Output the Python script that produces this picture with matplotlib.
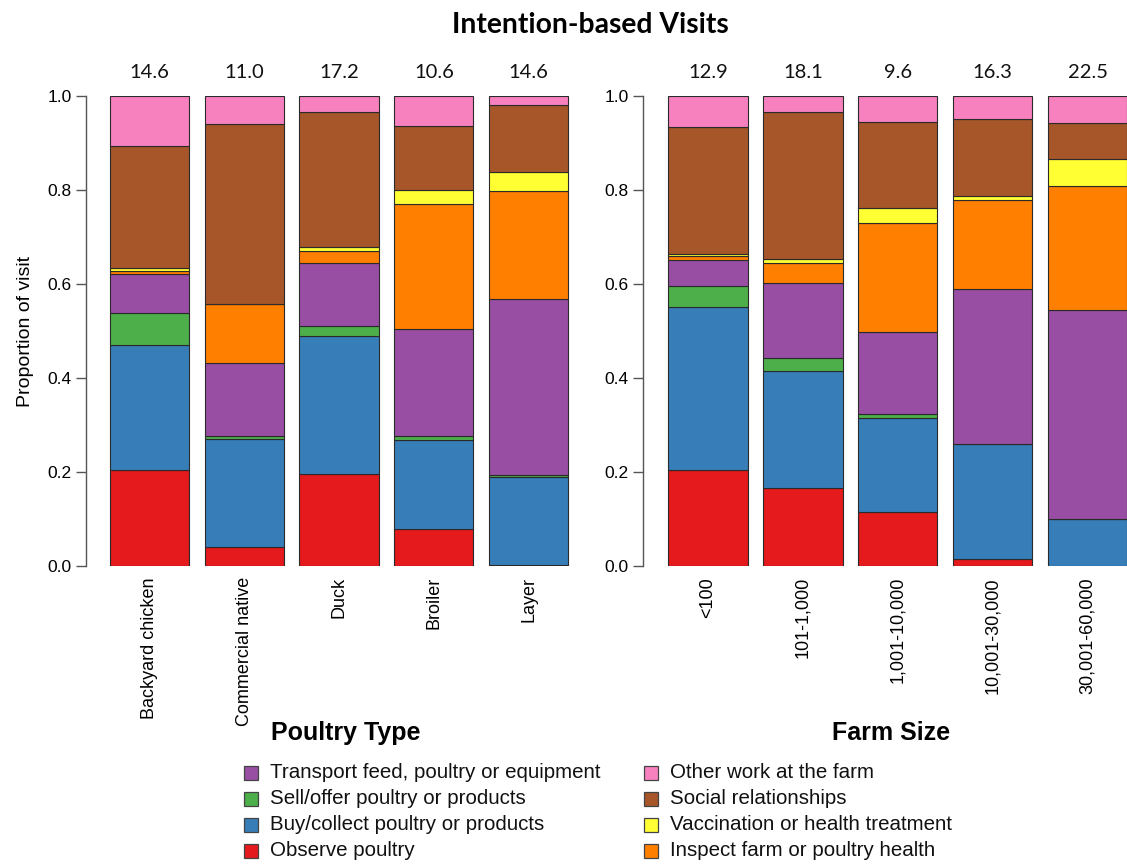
import matplotlib
matplotlib.use("Agg")
import matplotlib.pyplot as plt
from matplotlib.patches import Rectangle

# Visit purposes, stacked from the bottom of each bar upwards
purposes = [
    "Observe poultry",
    "Buy/collect poultry or products",
    "Sell/offer poultry or products",
    "Transport feed, poultry or equipment",
    "Inspect farm or poultry health",
    "Vaccination or health treatment",
    "Social relationships",
    "Other work at the farm",
]
colors = ["#E41A1C", "#377EB8", "#4DAF4A", "#984EA3",
          "#FF7F00", "#FFFF33", "#A65628", "#F781BF"]

# Poultry type panel
poultry_types = ["Backyard chicken", "Commercial native", "Duck", "Broiler", "Layer"]
poultry_totals = ["14.6", "11.0", "17.2", "10.6", "14.6"]
poultry_observe   = [0.204, 0.040, 0.196, 0.078, 0.003]
poultry_buy       = [0.267, 0.230, 0.294, 0.190, 0.187]
poultry_sell      = [0.068, 0.007, 0.020, 0.008, 0.003]
poultry_transport = [0.082, 0.154, 0.135, 0.229, 0.375]
poultry_inspect   = [0.007, 0.127, 0.026, 0.265, 0.229]
poultry_vaccine   = [0.006, 0.000, 0.008, 0.030, 0.041]
poultry_social    = [0.260, 0.383, 0.286, 0.136, 0.142]
poultry_other     = [0.106, 0.059, 0.035, 0.064, 0.020]

# Farm size panel
farm_sizes = ["<100", "101-1,000", "1,001-10,000", "10,001-30,000", "30,001-60,000"]
farm_totals = ["12.9", "18.1", "9.6", "16.3", "22.5"]
farm_observe   = [0.205, 0.167, 0.115, 0.014, 0.000]
farm_buy       = [0.347, 0.248, 0.200, 0.245, 0.099]
farm_sell      = [0.044, 0.027, 0.009, 0.000, 0.000]
farm_transport = [0.055, 0.161, 0.173, 0.330, 0.445]
farm_inspect   = [0.009, 0.042, 0.233, 0.189, 0.265]
farm_vaccine   = [0.004, 0.008, 0.031, 0.009, 0.057]
farm_social    = [0.270, 0.313, 0.184, 0.165, 0.077]
farm_other     = [0.066, 0.034, 0.055, 0.048, 0.057]

poultry_series = [poultry_observe, poultry_buy, poultry_sell, poultry_transport,
                  poultry_inspect, poultry_vaccine, poultry_social, poultry_other]
farm_series = [farm_observe, farm_buy, farm_sell, farm_transport,
               farm_inspect, farm_vaccine, farm_social, farm_other]

W, H = 1127, 864
fig = plt.figure(figsize=(W / 100, H / 100), dpi=100)

ARIAL = "Liberation Sans"
HUMANIST = "Lato"

y0_px, y1_px = 566.0, 96.0   # pixel rows of 0.0 and 1.0


def make_axes(spine_px, first_center_px, unit_px, x_hi=4.6):
    x_lo = -(first_center_px - spine_px) / unit_px
    width_px = (x_hi - x_lo) * unit_px
    ax = fig.add_axes([spine_px / W, (H - y0_px) / H,
                       width_px / W, (y0_px - y1_px) / H])
    ax.set_xlim(x_lo, x_hi)
    ax.set_ylim(0, 1)
    return ax


def draw_panel(ax, cats, series, totals):
    x = list(range(len(cats)))
    bottom = [0.0] * len(cats)
    for vals, col in zip(series, colors):
        ax.bar(x, vals, bottom=bottom, width=0.835, color=col,
               edgecolor="#2a2a2a", linewidth=0.8, zorder=2)
        bottom = [b + v for b, v in zip(bottom, vals)]
    for xi, t in zip(x, totals):
        ax.text(xi, 1.049, t, ha="center", va="center",
                fontsize=14.5, family=HUMANIST, color="#111111")
    for s in ["top", "right", "bottom"]:
        ax.spines[s].set_visible(False)
    ax.spines["left"].set_bounds(0, 1)
    ax.spines["left"].set_color("#555555")
    ax.spines["left"].set_linewidth(1.0)
    ax.set_yticks([0, 0.2, 0.4, 0.6, 0.8, 1.0])
    ax.set_yticklabels(["0.0", "0.2", "0.4", "0.6", "0.8", "1.0"],
                       fontsize=12.5, family=ARIAL)
    ax.tick_params(axis="y", length=7, width=1.0, color="#555555", pad=3)
    ax.set_xticks(x)
    ax.set_xticklabels(cats, rotation=90, fontsize=13, family=ARIAL,
                       va="top", ha="center")
    ax.tick_params(axis="x", length=0, pad=8)
    ax.patch.set_alpha(0)


ax1 = make_axes(85.7, 149.4, 94.8)
draw_panel(ax1, poultry_types, poultry_series, poultry_totals)
ax1.set_ylabel("Proportion of visit", fontsize=14, family=ARIAL, labelpad=10)

ax2 = make_axes(642.7, 708.0, 94.9)
draw_panel(ax2, farm_sizes, farm_series, farm_totals)

fig.text(590.5 / W, 1 - 25 / H, "Intention-based Visits", ha="center", va="center",
         fontsize=20.3, fontweight="bold", family=HUMANIST)
fig.text(346 / W, 1 - 733 / H, "Poultry Type", ha="center", va="center",
         fontsize=18, fontweight="bold", family=ARIAL)
fig.text(891 / W, 1 - 733 / H, "Farm Size", ha="center", va="center",
         fontsize=18, fontweight="bold", family=ARIAL)

# Legend: two columns, entries listed top of the stack first
order = list(range(len(purposes)))[::-1]
columns = [order[4:], order[:4]]
col_x = [251, 651]
row_y = [773, 799, 825, 851]
sq = 14
for cx, idxs in zip(col_x, columns):
    for ry, k in zip(row_y, idxs):
        fig.patches.append(Rectangle(((cx - sq / 2) / W, 1 - (ry + sq / 2) / H),
                                     sq / W, sq / H, transform=fig.transFigure,
                                     facecolor=colors[k], edgecolor="#444444",
                                     linewidth=0.9))
        fig.text((cx + 19) / W, 1 - ry / H, purposes[k], ha="left", va="center",
                 fontsize=14.8, family=ARIAL, color="#111111")

fig.savefig("out.png", dpi=100)
